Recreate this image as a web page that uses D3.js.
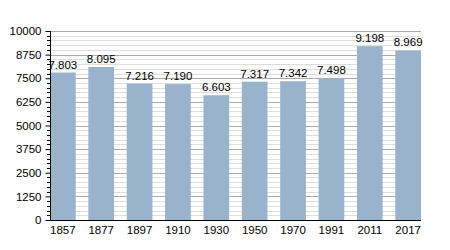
<!DOCTYPE html>
<html>
<head>
<meta charset="utf-8">
<script src="https://cdn.jsdelivr.net/npm/d3@7.9.0/dist/d3.min.js"></script>
<style>
  body { margin: 0; background: #fff; }
  svg text { font-family: "Liberation Sans", Arial, sans-serif; font-size: 11.5px; fill: #000; }
</style>
</head>
<body>
<svg width="450" height="250"></svg>
<script>
const years = ['1857', '1877', '1897', '1910', '1930', '1950', '1970', '1991', '2011', '2017'];
const population = [7803, 8095, 7216, 7190, 6603, 7317, 7342, 7498, 9198, 8969];
const yTicks = [0, 1250, 2500, 3750, 5000, 6250, 7500, 8750, 10000];

const svg = d3.select('svg');
const mLeft = 50, mRight = 421, mTop = 31, mBottom = 220;

const x = d3.scaleBand().domain(years).range([mLeft, mRight]).paddingInner(0.33).paddingOuter(0);
const y = d3.scaleLinear().domain([0, 10000]).range([mBottom, mTop]);

// minor grid every 250
const minor = d3.range(0, 10001, 250).filter(v => v % 1250 !== 0);
svg.append('g').selectAll('line').data(minor).join('line')
  .attr('x1', mLeft).attr('x2', mRight)
  .attr('y1', d => Math.round(y(d)) + 0.5).attr('y2', d => Math.round(y(d)) + 0.5)
  .attr('stroke', '#dedede');

svg.append('g').selectAll('line').data(yTicks.slice(1)).join('line')
  .attr('x1', mLeft).attr('x2', mRight)
  .attr('y1', d => Math.round(y(d)) + 0.5).attr('y2', d => Math.round(y(d)) + 0.5)
  .attr('stroke', '#aaaaaa');

// bars
svg.append('g').selectAll('rect').data(population).join('rect')
  .attr('x', (d, i) => x(years[i]))
  .attr('y', d => y(d))
  .attr('width', x.bandwidth())
  .attr('height', d => mBottom - y(d))
  .attr('fill', '#99b3cd');

// value labels
const fmt = v => d3.format(',')(v).replace(',', '.');
svg.append('g').selectAll('text').data(population).join('text')
  .attr('x', (d, i) => x(years[i]) + x.bandwidth() / 2)
  .attr('y', d => y(d) - 4)
  .attr('text-anchor', 'middle')
  .text(d => fmt(d));

// y axis minor ticks
svg.append('g').selectAll('line').data(minor).join('line')
  .attr('x1', mLeft - 3).attr('x2', mLeft)
  .attr('y1', d => Math.round(y(d)) + 0.5).attr('y2', d => Math.round(y(d)) + 0.5)
  .attr('stroke', '#000');

const yAxis = d3.axisLeft(y).tickValues(yTicks).tickSize(5).tickSizeOuter(0).tickPadding(4).tickFormat(d => d);
svg.append('g').attr('transform', `translate(${mLeft + 0.5},0)`).call(yAxis)
  .call(g => g.select('.domain').attr('d', `M0,${mTop}V${mBottom}`))
  .call(g => g.selectAll('text').attr('font-size', null).attr('font-family', null));

const xAxis = d3.axisBottom(x).tickSize(0).tickPadding(5);
svg.append('g').attr('transform', `translate(0,${mBottom + 0.5})`).call(xAxis)
  .attr('font-size', null).attr('font-family', null)
  .call(g => g.select('.domain').attr('d', `M${mLeft},0H${mRight}`));
</script>
</body>
</html>
